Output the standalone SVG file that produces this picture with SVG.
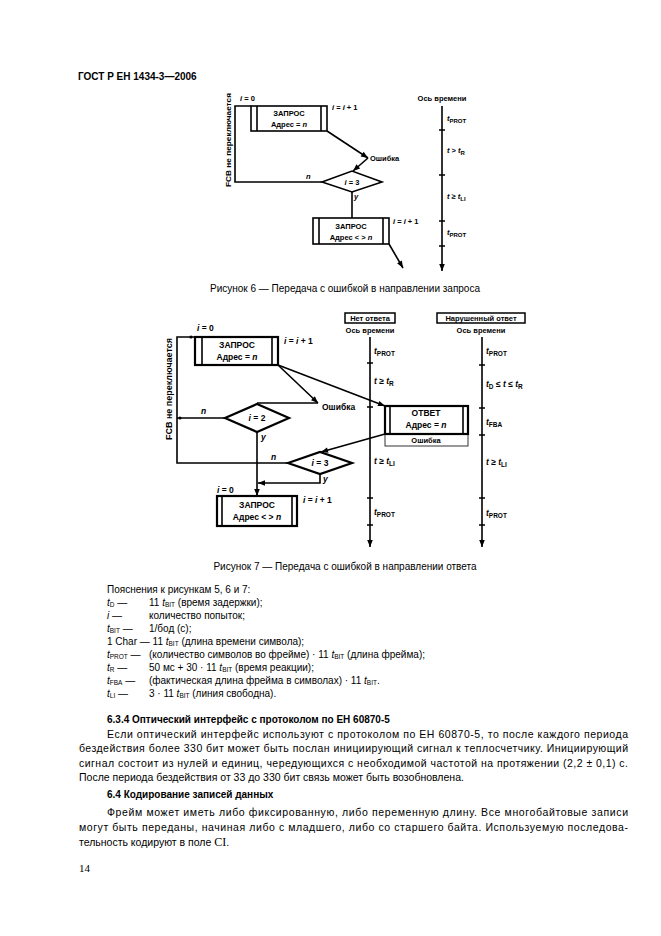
<svg xmlns="http://www.w3.org/2000/svg" width="661" height="936" viewBox="0 0 661 936">
<defs>
<marker id="ah" viewBox="0 0 10 10" refX="10" refY="5" markerWidth="8" markerHeight="7" markerUnits="userSpaceOnUse" orient="auto"><path d="M0,1 L10,5 L0,9 z" fill="#000"/></marker>
<style>
.ln{stroke:#000;stroke-width:1.6;fill:none}
.bx{stroke:#000;stroke-width:1.6;fill:#fff}
.bx2{stroke:#000;stroke-width:2.2;fill:#fff}
.thin{stroke:#000;stroke-width:0.8;fill:#fff}
.d{font-family:"Liberation Sans",Arial,sans-serif;font-weight:bold;font-size:7.5px;fill:#000}
.d2{font-family:"Liberation Sans",Arial,sans-serif;font-weight:bold;font-size:8.5px;fill:#000}
.c{text-anchor:middle}
.cap{font-family:"Liberation Sans",Arial,sans-serif;font-size:10px;fill:#000}
.lg{font-family:"Liberation Sans",Arial,sans-serif;font-size:10px;fill:#000}
.b{font-family:"Liberation Sans",Arial,sans-serif;font-size:10.5px;fill:#000}
.h{font-family:"Liberation Sans",Arial,sans-serif;font-size:10px;font-weight:bold;fill:#000}
.it{font-style:italic}
</style>
</defs>
<rect width="661" height="936" fill="#fff"/>
<text x="78" y="80" class="h" font-size="11">ГОСТ Р ЕН 1434-3—2006</text>

<!-- ===== Figure 6 ===== -->
<g id="fig6-connectors">
<polyline class="ln" points="322,182 235,182 235,106 251,106"/>
<line class="ln" x1="327" y1="131" x2="368" y2="158" marker-end="url(#ah)"/>
<line class="ln" x1="368" y1="158" x2="353" y2="171" marker-end="url(#ah)"/>
<line class="ln" x1="352" y1="192" x2="352" y2="218"/>
<line class="ln" x1="389" y1="244" x2="403" y2="268" marker-end="url(#ah)"/>
</g>
<g id="fig6-label-fcb"><text class="d c" transform="translate(231,140) rotate(-90)" textLength="94" lengthAdjust="spacingAndGlyphs">FCB не переключается</text></g>
<g id="fig6-req1">
<rect class="bx" x="251" y="106" width="76" height="25"/>
<line class="ln" x1="257" y1="106" x2="257" y2="131"/><line class="ln" x1="321" y1="106" x2="321" y2="131"/>
<text class="d c" x="289" y="116">ЗАПРОС</text>
<text class="d c" x="289" y="127">Адрес = <tspan class="it">n</tspan></text>
<text class="d" x="240" y="101"><tspan class="it">i</tspan> = 0</text>
<text class="d" x="332" y="110"><tspan class="it">i</tspan> = <tspan class="it">i</tspan> + 1</text>
</g>
<g id="fig6-err"><text class="d" x="370" y="161">Ошибка</text></g>
<g id="fig6-dec">
<polygon class="bx" points="322,182 352,171 382,182 352,192"/>
<text class="d c" x="352" y="185"><tspan class="it">i</tspan> = 3</text>
<text class="d it" x="306" y="179">n</text>
<text class="d it" x="354" y="199">y</text>
</g>
<g id="fig6-req2">
<rect class="bx" x="313" y="218" width="76" height="26"/>
<line class="ln" x1="319" y1="218" x2="319" y2="244"/><line class="ln" x1="383" y1="218" x2="383" y2="244"/>
<text class="d c" x="351" y="229">ЗАПРОС</text>
<text class="d c" x="351" y="240">Адрес &lt; &gt; <tspan class="it">n</tspan></text>
<text class="d" x="393" y="224"><tspan class="it">i</tspan> = <tspan class="it">i</tspan> + 1</text>
</g>
<g id="fig6-axis">
<text class="d c" x="442" y="101">Ось времени</text>
<line class="ln" x1="442" y1="106" x2="442" y2="271" marker-end="url(#ah)"/>
<path class="ln" d="M439,130H445M439,175H445M439,221H445M439,246H445"/>
<text class="d" x="447" y="121"><tspan class="it">t</tspan><tspan font-size="6" dy="2">PROT</tspan></text>
<text class="d" x="447" y="153"><tspan class="it">t</tspan> &gt; <tspan class="it">t</tspan><tspan font-size="6" dy="2">R</tspan></text>
<text class="d" x="447" y="199"><tspan class="it">t</tspan> ≥ <tspan class="it">t</tspan><tspan font-size="6" dy="2">LI</tspan></text>
<text class="d" x="447" y="235"><tspan class="it">t</tspan><tspan font-size="6" dy="2">PROT</tspan></text>
</g>
<text class="cap c" x="345" y="292">Рисунок 6 — Передача с ошибкой в направлении запроса</text>

<!-- ===== Figure 7 ===== -->
<g id="fig7-connectors">
<polyline class="ln" points="225,418 177,418"/>
<polyline class="ln" points="195,337 177,337 177,463 288,463"/>
<line class="ln" x1="278" y1="365" x2="318" y2="403" marker-end="url(#ah)"/>
<polyline class="ln" points="318,403 257,403"/>
<line class="ln" x1="278" y1="365" x2="385" y2="406" marker-end="url(#ah)"/>
<line class="ln" x1="257" y1="432" x2="257" y2="496" marker-end="url(#ah)"/>
<line class="ln" x1="385" y1="434" x2="321" y2="452" marker-end="url(#ah)"/>
<polyline class="ln" points="320,473 320,483 258,483" marker-end="url(#ah)"/>
<circle cx="191" cy="337" r="1.6"/><circle cx="180" cy="418" r="1.6"/>
</g>
<g id="fig7-label-fcb"><text class="d2 c" transform="translate(172,389) rotate(-90)" textLength="102" lengthAdjust="spacingAndGlyphs">FCB не переключается</text></g>
<g id="fig7-req1">
<rect class="bx2" x="195" y="337" width="83" height="28"/>
<line class="ln" x1="202" y1="337" x2="202" y2="365"/><line class="ln" x1="272" y1="337" x2="272" y2="365"/>
<text class="d2 c" x="237" y="348">ЗАПРОС</text>
<text class="d2 c" x="237" y="360">Адрес = <tspan class="it">n</tspan></text>
<text class="d2" x="197" y="331"><tspan class="it">i</tspan> = 0</text>
<text class="d2" x="284" y="344"><tspan class="it">i</tspan> = <tspan class="it">i</tspan> + 1</text>
</g>
<g id="fig7-err"><text class="d2" x="322" y="410">Ошибка</text></g>
<g id="fig7-dec2">
<polygon class="bx2" points="225,418 257,404 289,418 257,432"/>
<text class="d2 c" x="257" y="421"><tspan class="it">i</tspan> = 2</text>
<text class="d2 it" x="201" y="414">n</text>
<text class="d2 it" x="261" y="440">y</text>
</g>
<g id="fig7-answer">
<rect class="thin" x="385" y="434" width="83" height="12"/>
<rect class="bx2" x="385" y="406" width="83" height="28"/>
<line class="ln" x1="390" y1="406" x2="390" y2="434"/><line class="ln" x1="463" y1="406" x2="463" y2="434"/>
<text class="d2 c" x="426" y="416">ОТВЕТ</text>
<text class="d2 c" x="426" y="428">Адрес = <tspan class="it">n</tspan></text>
<text class="d c" x="426" y="443">Ошибка</text>
</g>
<g id="fig7-dec3">
<polygon class="bx2" points="288,463 320,452 352,463 320,474"/>
<text class="d2 c" x="320" y="466"><tspan class="it">i</tspan> = 3</text>
<text class="d2 it" x="271" y="460">n</text>
<text class="d2 it" x="323" y="482">y</text>
</g>
<g id="fig7-req2">
<rect class="bx2" x="217" y="496" width="80" height="30"/>
<line class="ln" x1="222" y1="496" x2="222" y2="526"/><line class="ln" x1="292" y1="496" x2="292" y2="526"/>
<text class="d2 c" x="257" y="508">ЗАПРОС</text>
<text class="d2 c" x="257" y="520">Адрес &lt; &gt; <tspan class="it">n</tspan></text>
<text class="d2" x="217" y="493"><tspan class="it">i</tspan> = 0</text>
<text class="d2" x="303" y="503"><tspan class="it">i</tspan> = <tspan class="it">i</tspan> + 1</text>
</g>
<g id="fig7-axis1">
<rect x="345" y="313" width="50" height="10" fill="#fff" stroke="#000" stroke-width="1.5"/>
<text class="d c" x="370" y="321">Нет ответа</text>
<text class="d c" x="370" y="333">Ось времени</text>
<line class="ln" x1="370" y1="337" x2="370" y2="547" marker-end="url(#ah)"/>
<path class="ln" d="M367,363H373M367,407H373M367,498H373M367,525H373"/>
<text class="d2" x="374" y="354"><tspan class="it">t</tspan><tspan font-size="6.5" dy="2">PROT</tspan></text>
<text class="d2" x="374" y="384"><tspan class="it">t</tspan> ≥ <tspan class="it">t</tspan><tspan font-size="6.5" dy="2">R</tspan></text>
<text class="d2" x="374" y="464"><tspan class="it">t</tspan> ≥ <tspan class="it">t</tspan><tspan font-size="6.5" dy="2">LI</tspan></text>
<text class="d2" x="374" y="515"><tspan class="it">t</tspan><tspan font-size="6.5" dy="2">PROT</tspan></text>
</g>
<g id="fig7-axis2">
<rect x="437" y="313" width="88" height="10" fill="#fff" stroke="#000" stroke-width="1.5"/>
<text class="d c" x="481" y="321">Нарушенный ответ</text>
<text class="d c" x="481" y="333">Ось времени</text>
<line class="ln" x1="482" y1="337" x2="482" y2="547" marker-end="url(#ah)"/>
<path class="ln" d="M479,365H485M479,408H485M479,435H485M479,498H485M479,525H485"/>
<text class="d2" x="486" y="354"><tspan class="it">t</tspan><tspan font-size="6.5" dy="2">PROT</tspan></text>
<text class="d2" x="486" y="387"><tspan class="it">t</tspan><tspan font-size="6.5" dy="2">D</tspan><tspan dy="-2"> ≤ </tspan><tspan class="it">t</tspan> ≤ <tspan class="it">t</tspan><tspan font-size="6.5" dy="2">R</tspan></text>
<text class="d2" x="486" y="425"><tspan class="it">t</tspan><tspan font-size="6.5" dy="2">FBA</tspan></text>
<text class="d2" x="486" y="465"><tspan class="it">t</tspan> ≥ <tspan class="it">t</tspan><tspan font-size="6.5" dy="2">LI</tspan></text>
<text class="d2" x="486" y="516"><tspan class="it">t</tspan><tspan font-size="6.5" dy="2">PROT</tspan></text>
</g>
<text class="cap c" x="345" y="570">Рисунок 7 — Передача с ошибкой в направлении ответа</text>

<!-- ===== Legend ===== -->
<g id="legend" class="lg">
<text x="107" y="593">Пояснения к рисункам 5, 6 и 7:</text>
<text x="107" y="606"><tspan class="it">t</tspan><tspan font-size="6.5" dy="1">D</tspan><tspan dy="-1"> —</tspan></text>
<text x="149" y="606">11 <tspan class="it">t</tspan><tspan font-size="6.5" dy="1">BIT</tspan><tspan dy="-1"> (время задержки);</tspan></text>
<text x="107" y="619"><tspan class="it">i</tspan> —</text>
<text x="149" y="619">количество попыток;</text>
<text x="107" y="632"><tspan class="it">t</tspan><tspan font-size="6.5" dy="1">BIT</tspan><tspan dy="-1"> —</tspan></text>
<text x="149" y="632">1/бод (с);</text>
<text x="107" y="645">1 Char — 11 <tspan class="it">t</tspan><tspan font-size="6.5" dy="1">BIT</tspan><tspan dy="-1"> (длина времени символа);</tspan></text>
<text x="107" y="658"><tspan class="it">t</tspan><tspan font-size="6.5" dy="1">PROT</tspan><tspan dy="-1"> —</tspan></text>
<text x="149" y="658">(количество символов во фрейме) · 11 <tspan class="it">t</tspan><tspan font-size="6.5" dy="1">BIT</tspan><tspan dy="-1"> (длина фрейма);</tspan></text>
<text x="107" y="671"><tspan class="it">t</tspan><tspan font-size="6.5" dy="1">R</tspan><tspan dy="-1"> —</tspan></text>
<text x="149" y="671">50 мс + 30 · 11 <tspan class="it">t</tspan><tspan font-size="6.5" dy="1">BIT</tspan><tspan dy="-1"> (время реакции);</tspan></text>
<text x="107" y="684"><tspan class="it">t</tspan><tspan font-size="6.5" dy="1">FBA</tspan><tspan dy="-1"> —</tspan></text>
<text x="149" y="684">(фактическая длина фрейма в символах) · 11 <tspan class="it">t</tspan><tspan font-size="6.5" dy="1">BIT</tspan><tspan dy="-1">.</tspan></text>
<text x="107" y="697"><tspan class="it">t</tspan><tspan font-size="6.5" dy="1">LI</tspan><tspan dy="-1"> —</tspan></text>
<text x="149" y="697">3  · 11 <tspan class="it">t</tspan><tspan font-size="6.5" dy="1">BIT</tspan><tspan dy="-1"> (линия свободна).</tspan></text>
</g>

<!-- ===== Body text ===== -->
<g id="body">
<text class="h" x="107" y="723">6.3.4  Оптический интерфейс с протоколом по ЕН 60870-5</text>
<text class="b" x="107" y="738" textLength="521" lengthAdjust="spacing">Если оптический интерфейс используют с протоколом по ЕН 60870-5, то после каждого периода</text>
<text class="b" x="79" y="752" textLength="549" lengthAdjust="spacing">бездействия более 330 бит может быть послан инициирующий сигнал к теплосчетчику. Инициирующий</text>
<text class="b" x="79" y="767" textLength="549" lengthAdjust="spacing">сигнал состоит из нулей и единиц, чередующихся с необходимой частотой на протяжении (2,2 ± 0,1) с.</text>
<text class="b" x="79" y="781">После периода бездействия от 33 до 330 бит связь может быть возобновлена.</text>
<text class="h" x="107" y="798">6.4  Кодирование записей данных</text>
<text class="b" x="107" y="816" textLength="521" lengthAdjust="spacing">Фрейм может иметь либо фиксированную, либо переменную длину. Все многобайтовые записи</text>
<text class="b" x="79" y="831" textLength="549" lengthAdjust="spacing">могут быть переданы, начиная либо с младшего, либо со старшего байта. Используемую последова-</text>
<text class="b" x="79" y="846">тельность кодируют в поле <tspan font-family="Liberation Serif,serif" font-size="12">CI</tspan>.</text>
<text x="79" y="872" font-family="Liberation Serif,serif" font-size="11">14</text>
</g>
</svg>
